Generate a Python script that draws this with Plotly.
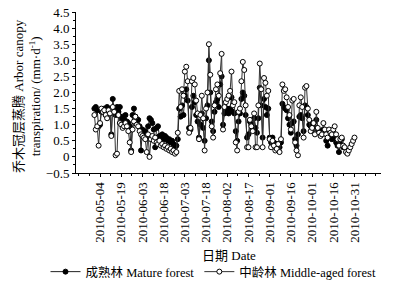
import plotly.graph_objects as go
import pandas as pd

start_date = "2010-04-30"
mature = [
    1.50, 1.55, 1.45, 0.95, 1.00, 1.40, 1.45, 1.50, 1.30, 1.55,
    1.40, 1.35, 0.70, 1.80, 1.50, 1.30, 1.55, 1.40, 1.55, 1.20,
    1.25, 1.15, 1.30, 1.10, 1.05, 0.95, 0.20, 1.30, 1.50, 1.25,
    1.10, 1.15, 0.95, 0.20, 0.85, 0.70, 0.80, 0.60, 0.95, 1.20,
    1.15, 1.05, 0.85, 0.30, 0.90, 0.95, 0.65, 0.60, 0.70, 0.55,
    0.65, 0.60, 0.50, 0.55, 0.45, 0.50, 0.40, 0.30, 0.35, 0.55,
    1.50, 1.25, 1.60, 1.30, 1.90, 2.10, 1.75, 0.90, 0.85, 1.55,
    1.90, 1.70, 1.30, 1.10, 0.60, 1.00, 1.35, 0.90, 0.50, 1.20,
    1.60, 3.00, 2.00, 1.10, 0.80, 1.40, 1.70, 1.80, 1.55, 2.25,
    2.50, 1.00, 1.35, 1.45, 1.50, 1.35, 1.50, 1.85, 1.40, 1.35,
    0.80, 0.50, 1.10, 1.35, 1.80, 2.00, 1.90, 1.30, 0.60, 0.70,
    1.10, 1.00, 0.90, 1.20, 0.90, 0.75, 1.20, 2.15, 1.60, 0.60,
    1.80, 1.55, 1.30, 1.50, 0.60, 0.45, 0.60, 0.45, 0.35, 0.40,
    0.35, 0.30, 0.45, 1.65, 1.55, 1.50, 1.45, 1.20, 1.00, 0.75,
    1.05, 1.10, 0.55, 0.35, 0.70, 1.25, 1.30, 1.20, 0.80, 1.60,
    1.55, 1.30, 1.00, 0.95, 0.85, 1.05, 0.90, 1.15, 0.85, 0.75,
    0.80, 0.75, 0.85, 0.75, 0.50, 0.35, 0.70, 0.60, 0.55, 0.65,
    0.60, 0.45, 0.35, 0.15, 0.45, 0.55, 0.30, None, None, None,
    None, None, None, None, None,
]
middle = [
    1.30, 0.85, 0.95, 0.35, 1.05, 1.50, 1.40, 1.45, 1.30, 1.20,
    1.45, 1.35, 0.65, 1.55, 1.40, 0.05, 0.10, 1.30, 1.05, 1.00,
    0.90, 0.95, 1.05, 0.95, 0.80, 0.45, 0.15, 0.85, 1.10, 1.25,
    1.00, 0.95, 0.80, 0.70, 0.65, 0.60, 0.55, 0.15, 0.70, 0.00,
    0.55, 0.65, 0.50, 0.60, 0.45, 0.40, 0.50, 0.35, 0.40, 0.30,
    0.35, 0.25, 0.30, 0.20, 0.25, 0.15, 0.20, 0.10, 0.15, 0.75,
    2.05, 1.55, 2.10, 1.90, 2.65, 2.80, 2.35, 0.75, 0.90, 2.35,
    2.45, 2.25, 1.75, 1.35, 0.55, 1.30, 1.90, 1.20, 0.20, 1.50,
    2.00, 3.50, 2.55, 0.95, 0.60, 1.60, 2.10, 2.25, 1.90, 2.60,
    3.20, 0.85, 1.55, 1.70, 1.80, 1.90, 2.05, 2.65, 1.60, 1.70,
    0.45, 0.20, 1.40, 1.50, 2.35, 2.95, 2.70, 1.60, 0.30, 0.30,
    1.15, 0.95, 0.80, 1.35, 0.30, 0.30, 1.60, 2.90, 2.10, 0.30,
    2.45, 2.30, 1.90, 2.05, 0.55, 0.30, 0.50, 0.35, 0.20, 0.25,
    0.40, 0.15, 0.55, 2.25, 2.05, 2.10, 1.85, 1.55, 1.30, 0.85,
    1.75, 1.80, 0.45, 0.20, 0.05, 1.60, 1.85, 1.55, 0.60, 2.15,
    2.20, 1.50, 1.15, 0.80, 0.90, 1.05, 0.70, 1.40, 0.90, 0.75,
    0.65, 0.70, 1.05, 0.85, 0.70, 0.60, 0.85, 0.75, 0.70, 0.85,
    0.95, 0.70, 0.55, 0.35, 0.55, 0.60, 0.35, 0.30, 0.15, 0.10,
    0.20, 0.30, 0.40, 0.50, 0.60,
]
dates = pd.date_range(start_date, periods=len(middle), freq="D")

tick_dates = pd.date_range("2010-05-04", "2010-10-31", freq="15D")
tick_labels = [d.strftime("%Y-%m-%d") for d in tick_dates]
y_ticks = [-0.5, 0, 0.5, 1.0, 1.5, 2.0, 2.5, 3.0, 3.5, 4.0, 4.5]
y_tick_labels = ["\u22120.5", "0", "0.5", "1.0", "1.5", "2.0", "2.5", "3.0", "3.5", "4.0", "4.5"]

FONT = "Liberation Serif, Times New Roman, Noto Sans CJK SC, serif"

fig = go.Figure()
fig.add_trace(go.Scatter(
    x=dates, y=mature, mode="lines+markers", name="成熟林 Mature forest",
    line=dict(color="#222222", width=1),
    marker=dict(symbol="circle", size=5, color="black", line=dict(color="black", width=1)),
))
fig.add_trace(go.Scatter(
    x=dates, y=middle, mode="lines+markers", name="中龄林 Middle-aged forest",
    line=dict(color="#333333", width=1),
    marker=dict(symbol="circle", size=5, color="white", line=dict(color="black", width=1)),
))

fig.update_layout(
    width=397, height=284,
    margin=dict(l=76, r=16, t=12, b=111, autoexpand=False),
    paper_bgcolor="white", plot_bgcolor="white",
    font=dict(family=FONT, size=13, color="black"),
    showlegend=True,
    legend=dict(orientation="h", x=-0.10, y=-0.615, xanchor="left", yanchor="middle",
                font=dict(size=12.5), bgcolor="rgba(0,0,0,0)",
                itemwidth=30, tracegroupgap=0),
    xaxis=dict(
        type="date", range=["2010-04-17", "2010-11-18 18:00"],
        tickvals=tick_dates, ticktext=tick_labels, tickangle=-90,
        showline=True, linecolor="black", linewidth=1, mirror=False, automargin=False,
        ticks="outside", ticklen=3, tickcolor="black", showgrid=False, zeroline=False,
        tickfont=dict(size=13),
        minor=dict(ticks="outside", ticklen=2, tickcolor="black",
                   dtick=7.5 * 86400000, tick0="2010-05-04", showgrid=False),
    ),
    yaxis=dict(
        range=[-0.5, 4.5], tickvals=y_ticks, ticktext=y_tick_labels,
        showline=True, linecolor="black", linewidth=1, automargin=False,
        ticks="outside", ticklen=3, tickcolor="black", showgrid=False, zeroline=False,
        tickfont=dict(size=13),
        minor=dict(ticks="outside", ticklen=2, tickcolor="black", dtick=0.25, showgrid=False),
    ),
    annotations=[
        dict(text="日期 Date", xref="paper", yref="paper", x=0.5, y=-0.51,
             xanchor="center", yanchor="middle", showarrow=False, font=dict(size=13)),
        dict(text="乔木冠层蒸腾 Arbor canopy<br>transpiration/ (mm·d<sup>-1</sup>)",
             xref="paper", yref="paper", x=-0.16, y=0.48, textangle=-90,
             xanchor="center", yanchor="middle", showarrow=False, font=dict(size=13)),
    ],
)

fig.write_html(
    "out.html",
    config={"displayModeBar": False},
    post_script="document.body.style.margin='0';document.body.style.padding='0';",
)
